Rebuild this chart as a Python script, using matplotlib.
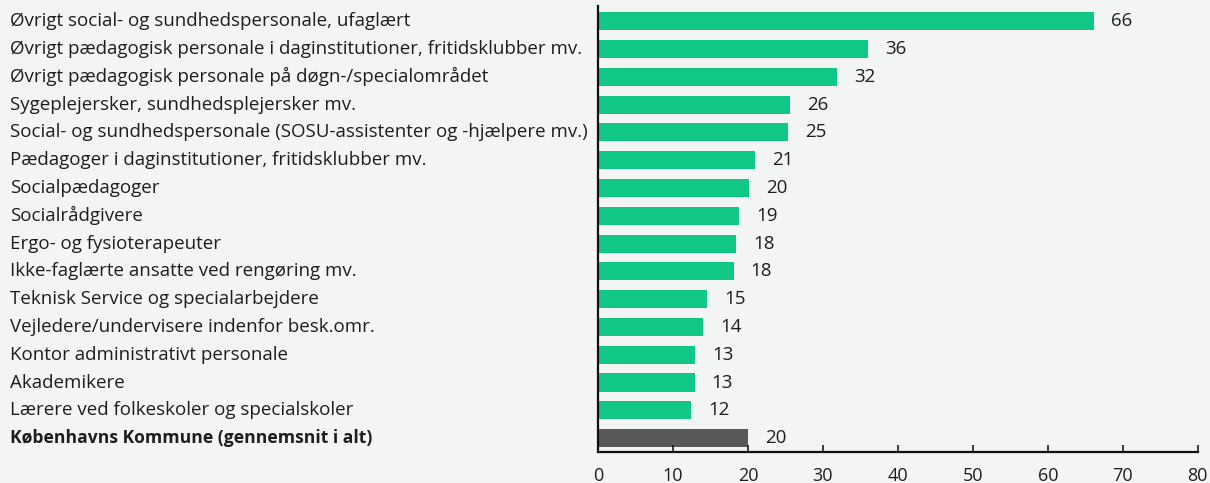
import matplotlib
matplotlib.use("Agg")
import matplotlib.pyplot as plt
from matplotlib.transforms import blended_transform_factory

categories = [
    "Øvrigt social- og sundhedspersonale, ufaglært",
    "Øvrigt pædagogisk personale i daginstitutioner, fritidsklubber mv.",
    "Øvrigt pædagogisk personale på døgn-/specialområdet",
    "Sygeplejersker, sundhedsplejersker mv.",
    "Social- og sundhedspersonale (SOSU-assistenter og -hjælpere mv.)",
    "Pædagoger i daginstitutioner, fritidsklubber mv.",
    "Socialpædagoger",
    "Socialrådgivere",
    "Ergo- og fysioterapeuter",
    "Ikke-faglærte ansatte ved rengøring mv.",
    "Teknisk Service og specialarbejdere",
    "Vejledere/undervisere indenfor besk.omr.",
    "Kontor administrativt personale",
    "Akademikere",
    "Lærere ved folkeskoler og specialskoler",
    "Københavns Kommune (gennemsnit i alt)",
]
values = [66.1, 36.0, 31.9, 25.6, 25.3, 21.0, 20.2, 18.8, 18.4, 18.1,
          14.6, 14.0, 13.0, 12.9, 12.4, 20.0]
value_labels = ["66", "36", "32", "26", "25", "21", "20", "19", "18", "18",
                "15", "14", "13", "13", "12", "20"]
x_ticks = [0, 10, 20, 30, 40, 50, 60, 70, 80]

plt.rcParams['font.family'] = ['Open Sans', 'DejaVu Sans']

BG = "#f2f5f4"
GREEN = "#10c785"
GRAY = "#595959"
TXT = "#1e1e1e"

fig = plt.figure(figsize=(12.10, 4.83), dpi=100, facecolor=BG)
ax = fig.add_axes([598/1210, 1 - 452/483, (1197.7 - 598)/1210, (452 - 6)/483])
ax.set_facecolor(BG)

n = len(categories)
ypos = list(range(n))
colors = [GREEN] * (n - 1) + [GRAY]
ax.barh(ypos, values, height=0.65, color=colors, edgecolor='none')

ax.set_xlim(0, 80)
ax.set_ylim(n - 0.5, -0.55)
ax.set_xticks(x_ticks)
ax.set_xticklabels([str(t) for t in x_ticks], fontsize=13, color=TXT)
ax.tick_params(axis='x', direction='in', length=5, width=1.2, pad=11, colors=TXT)
ax.set_yticks([])

for s in ['top', 'right']:
    ax.spines[s].set_visible(False)
for s in ['left', 'bottom']:
    ax.spines[s].set_linewidth(1.6)
    ax.spines[s].set_color('#111111')

trans = blended_transform_factory(fig.transFigure, ax.transData)
for i, (c, v, lab) in enumerate(zip(categories, values, value_labels)):
    bold = i == n - 1
    ax.text(10/1210, i, c, transform=trans, ha='left', va='center',
            fontsize=12.6 if bold else 13.5, color=TXT,
            fontweight='bold' if bold else 'normal')
    ax.annotate(lab, xy=(v, i), xytext=(17, 0), textcoords='offset pixels',
                ha='left', va='center', fontsize=13.5, color=TXT)

fig.savefig("out.png", dpi=100, facecolor=BG)
